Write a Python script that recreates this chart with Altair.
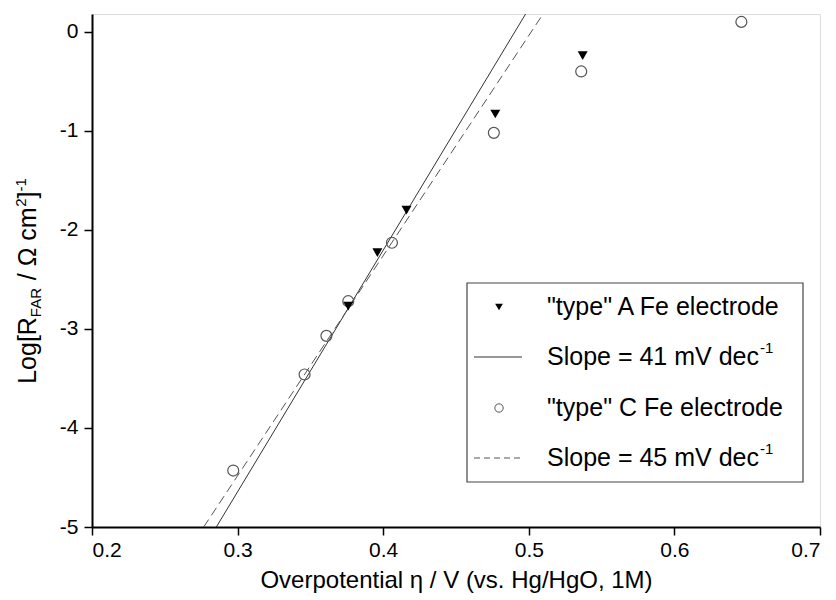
import altair as alt
import pandas as pd

# ---------------- data ----------------
typeA_eta = [0.376, 0.396, 0.416, 0.477, 0.537]
typeA_log = [-2.77, -2.23, -1.80, -0.83, -0.24]
typeC_eta = [0.297, 0.346, 0.361, 0.376, 0.406, 0.476, 0.536, 0.646]
typeC_log = [-4.43, -3.46, -3.07, -2.72, -2.13, -1.02, -0.40, 0.10]
fit41_eta = [0.2854, 0.500]
fit41_log = [-5.0, 0.234]
fit45_eta = [0.2767, 0.520]
fit45_log = [-5.0, 0.407]
x_ticks = [0.2, 0.3, 0.4, 0.5, 0.6, 0.7]
y_ticks = [-5, -4, -3, -2, -1, 0]
legend_labels = ['"type" A Fe electrode', "Slope = 41 mV dec",
                 '"type" C Fe electrode', "Slope = 45 mV dec"]
x_title = "Overpotential \u03b7 / V (vs. Hg/HgO, 1M)"

FONT = "Liberation Sans"
W, H = 728, 513

# Arial / Liberation Sans advance widths (per 1000 em)
AW = {" ": 278, '"': 355, "(": 333, ")": 333, "-": 333, ".": 278,
      "/": 278, "=": 584, "[": 278, "]": 278, "A": 667, "C": 722, "F": 611,
      "H": 722, "L": 556, "M": 833, "O": 778, "R": 722, "S": 667, "V": 667,
      "a": 556, "c": 500, "d": 556, "e": 556, "g": 556, "l": 222, "m": 833,
      "o": 556, "p": 556, "r": 333, "s": 500, "t": 278, "v": 500, "y": 500,
      "\u03a9": 768, "\u03b7": 556}


def tw(s, fs):
    return sum(AW.get(ch, 556) for ch in s) * fs / 1000.0


one = pd.DataFrame({"k": [0]})

xs = alt.Scale(domain=[0.2, 0.7], nice=False, zero=False)
ys = alt.Scale(domain=[-5, 0.18], nice=False, zero=False)

x_axis = alt.Axis(values=x_ticks, format=".1f", title=x_title, grid=False,
                  tickSize=8, tickWidth=1.5, tickColor="black",
                  domainColor="black", domainWidth=2, labelFont=FONT,
                  labelFontSize=21, labelColor="black", labelPadding=4,
                  titleFont=FONT, titleFontSize=24, titleFontWeight="normal",
                  titleColor="black", titlePadding=8)
y_axis = alt.Axis(values=y_ticks, labelExpr="'' + datum.value", title="",
                  grid=False, tickSize=8, tickWidth=1.5, tickColor="black",
                  domainColor="black", domainWidth=2, labelFont=FONT,
                  labelFontSize=21, labelColor="black", labelPadding=6)

dfA = pd.DataFrame({"eta": typeA_eta, "logR": typeA_log})
dfC = pd.DataFrame({"eta": typeC_eta, "logR": typeC_log})
df41 = pd.DataFrame({"eta": fit41_eta, "logR": fit41_log})
df45 = pd.DataFrame({"eta": fit45_eta, "logR": fit45_log})

enc = dict(x=alt.X("eta:Q", scale=xs, axis=x_axis),
           y=alt.Y("logR:Q", scale=ys, axis=y_axis))

line41 = alt.Chart(df41).mark_line(color="#333333", strokeWidth=1, clip=True).encode(**enc)
line45 = alt.Chart(df45).mark_line(color="#555555", strokeWidth=1, strokeDash=[9, 5], clip=True).encode(**enc)
ptsC = alt.Chart(dfC).mark_point(shape="circle", filled=False, color="#555555",
                                 strokeWidth=1.2, size=120, opacity=1).encode(**enc)
ptsA = alt.Chart(dfA).mark_point(shape="triangle-down", filled=True, color="black",
                                 size=100, opacity=1).encode(**enc)

layers = [line41, line45, ptsC, ptsA]

# ---------------- legend ----------------
box = dict(x0=375, x1=711, y0=269, y1=468)
rows = [293, 343, 394, 444]
sym_x = 407
ln_x0, ln_x1 = 382, 430
txt_x = 455
LFS = 25

layers.append(alt.Chart(one).mark_rect(fill="white", stroke="#444444", strokeWidth=1.2).encode(
    x=alt.value(box["x0"]), x2=alt.value(box["x1"]),
    y=alt.value(box["y0"]), y2=alt.value(box["y1"])))
layers.append(alt.Chart(one).mark_point(shape="triangle-down", filled=True, color="black",
                                        size=60, opacity=1).encode(
    x=alt.value(sym_x), y=alt.value(rows[0])))
layers.append(alt.Chart(one).mark_rule(color="#333333", strokeWidth=1).encode(
    x=alt.value(ln_x0), x2=alt.value(ln_x1), y=alt.value(rows[1])))
layers.append(alt.Chart(one).mark_point(shape="circle", filled=False, color="#555555",
                                        size=70, opacity=1, strokeWidth=1).encode(
    x=alt.value(sym_x), y=alt.value(rows[2])))
layers.append(alt.Chart(one).mark_rule(color="#555555", strokeWidth=1, strokeDash=[6, 4]).encode(
    x=alt.value(ln_x0), x2=alt.value(ln_x1), y=alt.value(rows[3])))

for i, lab in enumerate(legend_labels):
    layers.append(alt.Chart(one).mark_text(font=FONT, fontSize=LFS, align="left",
                                           baseline="middle", color="black").encode(
        x=alt.value(txt_x), y=alt.value(rows[i]), text=alt.value(lab)))
    if lab.startswith("Slope"):
        layers.append(alt.Chart(one).mark_text(font=FONT, fontSize=15, align="left",
                                               baseline="middle", color="black").encode(
            x=alt.value(txt_x + tw(lab, LFS) + 1), y=alt.value(rows[i] - 9),
            text=alt.value("-1")))

# ---------------- rotated y-axis title with sub/superscripts ----------------
# (text, font size, baseline shift, gap before)
segs = [("Log[R", 25, 0, 0), ("FAR", 15, 5, 0), ("/ \u03a9 cm", 25, 0, tw(" ", 25)),
        ("2", 15, -10, 0), ("]", 25, 0, 0), ("-1", 15, -10, 0)]
total = sum(tw(s, f) + g for s, f, _, g in segs)
yc, xb = 267, -56
cur = yc + total / 2
for s, f, dx, g in segs:
    cur -= g
    layers.append(alt.Chart(one).mark_text(font=FONT, fontSize=f, align="left",
                                           baseline="alphabetic", angle=270,
                                           color="black").encode(
        x=alt.value(xb + dx), y=alt.value(cur), text=alt.value(s)))
    cur -= tw(s, f)

chart = alt.layer(*layers).properties(
    width=W, height=H,
    autosize=alt.AutoSizeParams(type="none"),
    padding={"left": 84, "top": 6, "right": 8, "bottom": 70},
).configure_view(stroke="black", strokeWidth=2).configure(background="white")

chart.save("out.html", embed_options={"renderer": "svg", "actions": False})
